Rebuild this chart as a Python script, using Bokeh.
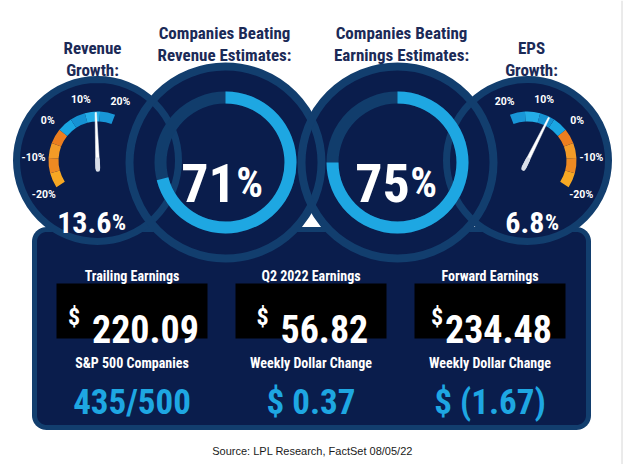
import numpy as np
from bokeh.plotting import figure
from bokeh.models import Range1d
from bokeh.core.properties import value
from bokeh.embed import file_html
from bokeh.resources import INLINE

# ---------------- data ----------------
gauge_titles_l1 = ["Revenue", "EPS"]
gauge_titles_l2 = ["Growth:", "Growth:"]
gauge_values = [13.6, 6.8]
gauge_value_labels = ["13.6", "6.8"]
gauge_ticks = [-20, -10, 0, 10, 20]
gauge_tick_labels = ["-20%", "-10%", "0%", "10%", "20%"]
gauge_segments = [-20, -15, -10, -5, 0, 5, 10, 15, 20]

beat_titles_l1 = ["Companies Beating", "Companies Beating"]
beat_titles_l2 = ["Revenue Estimates:", "Earnings Estimates:"]
beat_values = [71, 75]

box_titles = ["Trailing Earnings", "Q2 2022 Earnings", "Forward Earnings"]
box_values = ["220.09", "56.82", "234.48"]
sub_titles = ["S&P 500 Companies", "Weekly Dollar Change", "Weekly Dollar Change"]
sub_values = ["435/500", "$ 0.37", "$ (1.67)"]
source_text = "Source: LPL Research, FactSet 08/05/22"

# ---------------- style / layout ----------------
W, H = 624, 464
NAVY = "#0a1d4c"
RING = "#123e6e"
DONUT_BG = "#113d6c"
BLUE = "#1ea7e2"
TITLE = "#1b2a57"
COND = "Roboto Condensed, DejaVu Sans Condensed, Roboto"
SEG_COLORS = ["#f7a823", "#ee8a22", "#f39b27", "#ec7e1f",
              "#1aa6e2", "#1592d3", "#24ade7", "#1896d7"]

EM = {".": 0.24, "%": 0.70, "$": 0.50, "/": 0.36, "(": 0.30, ")": 0.30, " ": 0.22}
def tw(s, size):
    return sum(EM.get(c, 0.50) for c in s) * size

def Y(py):
    return H - py

p = figure(width=W, height=H, x_range=Range1d(0, W), y_range=Range1d(0, H),
           x_axis_type=None, y_axis_type=None, toolbar_location=None,
           output_backend="svg", min_border=0)
p.outline_line_color = None
p.background_fill_color = "white"
p.border_fill_color = "white"

def T(xs, pys, texts, size, color="white", font=COND, style="bold",
      align="center", baseline="alphabetic"):
    p.text(x=list(xs), y=[Y(v) for v in pys], text=list(texts),
           text_font=value(font), text_font_size=value(f"{size}px"),
           text_font_style=style, text_color=color, text_align=align,
           text_baseline=baseline)

# thin frame line at right edge
p.segment(x0=[621.5], y0=[0], x1=[621.5], y1=[H], line_color="#d6d6d6", line_width=1)

# ---------------- bottom panel ----------------
def rounded_rect(x0, py0, x1, py1, r, n=12):
    xs, ys = [], []
    corners = [(x1 - r, py0 + r, 90, 0), (x1 - r, py1 - r, 0, -90),
               (x0 + r, py1 - r, -90, -180), (x0 + r, py0 + r, 180, 90)]
    for cx, cpy, a0, a1 in corners:
        for a in np.linspace(np.radians(a0), np.radians(a1), n):
            xs.append(cx + r * np.cos(a))
            ys.append(Y(cpy) + r * np.sin(a))
    return xs, ys

px, py = rounded_rect(34, 229, 588, 427, 12)
p.patch(px, py, fill_color=NAVY, line_color=RING, line_width=5)

# ---------------- circles ----------------
gauge_cx = [97, 527]
gauge_cy = [160, 160]
donut_cx = [225, 397]
donut_cy = [162, 162]

p.circle(x=gauge_cx, y=[Y(v) for v in gauge_cy], radius=81, fill_color=NAVY, line_color=None)
p.circle(x=donut_cx, y=[Y(v) for v in donut_cy], radius=96, fill_color=NAVY, line_color=None)
p.circle(x=gauge_cx, y=[Y(v) for v in gauge_cy], radius=81, fill_color=None, line_color=RING, line_width=7)
p.circle(x=donut_cx, y=[Y(v) for v in donut_cy], radius=96, fill_color=None, line_color=RING, line_width=8)

# ---------------- gauges ----------------
def gauge_angle(v, side):
    # degrees, counter-clockwise from east
    return 141 - 3.6 * v if side == 0 else 39 + 3.6 * v

for g in range(2):
    cx, cy = gauge_cx[g], Y(gauge_cy[g])
    starts, ends = [], []
    for i in range(len(gauge_segments) - 1):
        a0 = gauge_angle(gauge_segments[i], g)
        a1 = gauge_angle(gauge_segments[i + 1], g)
        starts.append(np.radians(min(a0, a1)))
        ends.append(np.radians(max(a0, a1)))
    p.annular_wedge(x=[cx] * len(starts), y=[cy] * len(starts), inner_radius=39, outer_radius=49,
                    start_angle=starts, end_angle=ends, direction="anticlock",
                    fill_color=SEG_COLORS, line_color=None)
    # tick labels
    lx, ly = [], []
    for t in gauge_ticks:
        a = np.radians(gauge_angle(t, g))
        lx.append(cx + 64 * np.cos(a))
        ly.append(gauge_cy[g] - 63 * np.sin(a))
    T(lx, ly, gauge_tick_labels, 10.5, font="Roboto", baseline="middle")
    # needle
    a = np.radians(gauge_angle(gauge_values[g], g))
    u = np.array([np.cos(a), np.sin(a)])
    n = np.array([-np.sin(a), np.cos(a)])
    c = np.array([cx, cy])
    tail = c - 8 * u
    tip = c + 48 * u
    pts = [tail + 2.0 * n, tip + 0.7 * n, tip - 0.7 * n, tail - 2.0 * n]
    p.patch([q[0] for q in pts], [q[1] for q in pts], fill_color="white", line_color="white", line_width=0.5)
    g0 = c - 9 * u
    g1 = c + 1 * u
    p.segment(x0=[g0[0]], y0=[g0[1]], x1=[g1[0]], y1=[g1[1]], line_color="#d9dee8",
              line_width=4.5, line_cap="round")
    # value
    num, pct = gauge_value_labels[g], "%"
    sn, sp = 30, 22
    centre = [92.5, 533][g]
    total = tw(num, sn) + tw(pct, sp)
    anchor = centre - total / 2 + tw(num, sn)
    T([anchor], [222], [num], sn, align="right")
    T([anchor + 0.5], [222], [pct], sp, align="left")

# titles for gauges
T([92, 531], [47, 47], gauge_titles_l1, 17, color=TITLE)
T([92, 531], [69, 69], gauge_titles_l2, 17, color=TITLE)

# ---------------- donuts ----------------
p.annulus(x=donut_cx, y=[Y(v) for v in donut_cy], inner_radius=59, outer_radius=71,
          fill_color=DONUT_BG, line_color=None)
p.annular_wedge(x=donut_cx, y=[Y(v) for v in donut_cy], inner_radius=59, outer_radius=71,
                start_angle=[np.pi / 2] * 2,
                end_angle=[np.pi / 2 - 2 * np.pi * v / 100 for v in beat_values],
                direction="clock", fill_color=BLUE, line_color=None)
for d in range(2):
    num = str(beat_values[d])
    sn, sp = 54, 42
    centre = [223, 397][d]
    total = tw(num, sn) + tw("%", sp)
    anchor = centre - total / 2 + tw(num, sn)
    T([anchor], [182], [num], sn, align="right")
    T([anchor + 0.5], [182], ["%"], sp, align="left")

T([224, 401], [32, 32], beat_titles_l1, 17, color=TITLE)
T([224, 401], [54, 54], beat_titles_l2, 17, color=TITLE)

# ---------------- panel contents ----------------
box_left = [56, 235, 414]
box_right = [207, 386, 565]
p.quad(left=box_left, right=box_right, bottom=[Y(338)] * 3, top=[Y(283)] * 3,
       fill_color="black", line_color=None)
box_centre = [(l + r) / 2 for l, r in zip(box_left, box_right)]
dollar_gap = [12, 12, 2]

T(box_centre, [275] * 3, box_titles, 14)
for b in range(3):
    sd, sv = 24, 38
    wd, wv = tw("$", sd), tw(box_values[b], sv)
    start = box_centre[b] - (wd + dollar_gap[b] + wv) / 2
    T([start], [316], ["$"], sd, align="left")
    T([start + wd + dollar_gap[b]], [328], [box_values[b]], sv, align="left")

T(box_centre, [362] * 3, sub_titles, 14)
T(box_centre, [402] * 3, sub_values, 35, color=BLUE)

# ---------------- source ----------------
T([312], [450], [source_text], 11, color="#1a1a1a", font="Liberation Sans", style="normal")

open("out.html", "w").write(file_html(p, INLINE))
